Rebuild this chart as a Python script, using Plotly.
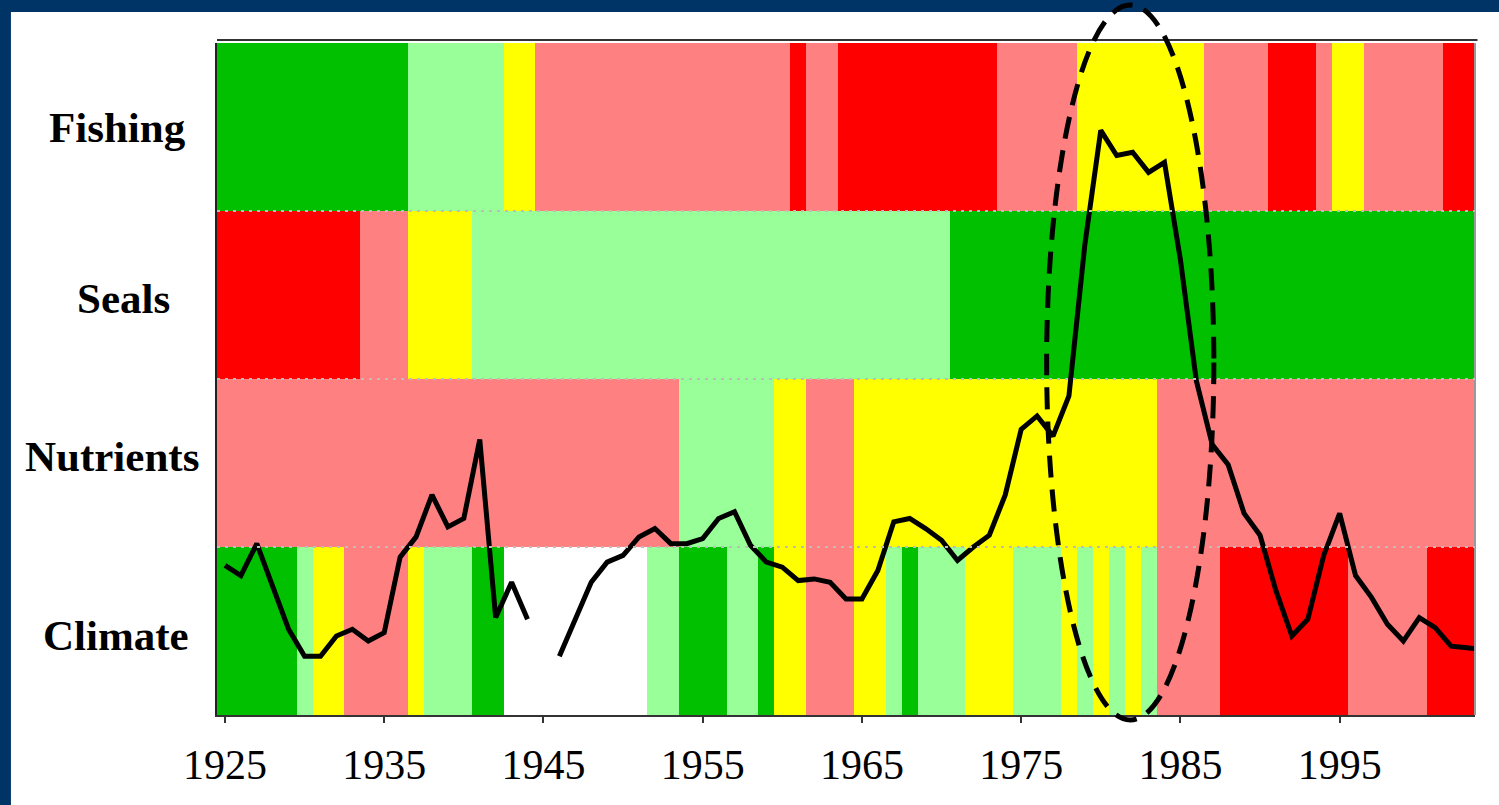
import plotly.graph_objects as go

# ---------------- data ----------------
years = list(range(1925, 2004))
row_names = ["Climate", "Nutrients", "Seals", "Fishing"]   # bottom -> top

# status codes: 2 = dark green, 1 = light green, 0 = yellow, -1 = pink, -2 = red, None = no data
fishing_runs = [(1925, 1936, 2), (1937, 1942, 1), (1943, 1944, 0), (1945, 1960, -1),
                (1961, 1961, -2), (1962, 1963, -1), (1964, 1973, -2), (1974, 1978, -1),
                (1979, 1986, 0), (1987, 1990, -1), (1991, 1993, -2), (1994, 1994, -1),
                (1995, 1996, 0), (1997, 2001, -1), (2002, 2003, -2)]
seals_runs = [(1925, 1933, -2), (1934, 1936, -1), (1937, 1940, 0), (1941, 1970, 1),
              (1971, 2003, 2)]
nutrients_runs = [(1925, 1953, -1), (1954, 1959, 1), (1960, 1961, 0), (1962, 1964, -1),
                  (1965, 1983, 0), (1984, 2003, -1)]
climate_runs = [(1925, 1929, 2), (1930, 1930, 1), (1931, 1932, 0), (1933, 1936, -1),
                (1937, 1937, 0), (1938, 1940, 1), (1941, 1942, 2), (1943, 1951, None),
                (1952, 1953, 1), (1954, 1956, 2), (1957, 1958, 1), (1959, 1959, 2),
                (1960, 1961, 0), (1962, 1964, -1), (1965, 1966, 0), (1967, 1967, 1),
                (1968, 1968, 2), (1969, 1971, 1), (1972, 1974, 0), (1975, 1977, 1),
                (1978, 1978, 0), (1979, 1979, 1), (1980, 1980, 0), (1981, 1981, 1),
                (1982, 1982, 0), (1983, 1983, 1), (1984, 1987, -1), (1988, 1995, -2),
                (1996, 2000, -1), (2001, 2003, -2)]

# index line (in row-height units of the panel)
line_years = list(range(1925, 2005))
line_values = [0.89, 0.83, 1.02, 0.77, 0.51, 0.35, 0.35, 0.47, 0.51, 0.44,
               0.49, 0.94, 1.06, 1.31, 1.12, 1.17, 1.64, 0.58, 0.79, 0.57,
               None, 0.35, 0.57, 0.79, 0.91, 0.95, 1.06, 1.11, 1.02, 1.02,
               1.05, 1.17, 1.21, 1.01, 0.91, 0.88, 0.80, 0.81, 0.79, 0.69,
               0.69, 0.86, 1.15, 1.17, 1.11, 1.04, 0.92, 1.00, 1.07, 1.31,
               1.70, 1.78, 1.66, 1.90, 2.80, 3.48, 3.33, 3.35, 3.23, 3.29,
               2.71, 1.99, 1.61, 1.49, 1.20, 1.07, 0.74, 0.47, 0.57, 0.95,
               1.20, 0.83, 0.70, 0.54, 0.44, 0.58, 0.52, 0.41, 0.40, 0.39]

x_ticks = [1925, 1935, 1945, 1955, 1965, 1975, 1985, 1995]

# highlighted period (dashed ellipse), in years
highlight_start, highlight_end = 1976.6, 1987.1

colors = {"red": "#FF0000", "pink": "#FF8080", "yellow": "#FFFF00",
          "lightgreen": "#99FF99", "darkgreen": "#00C000"}


def expand(runs):
    vals = {}
    for a, b, c in runs:
        for y in range(a, b + 1):
            vals[y] = c
    return [vals.get(y) for y in years]


z = [expand(climate_runs), expand(nutrients_runs), expand(seals_runs), expand(fishing_runs)]
row_centers = [0.5, 1.5, 2.5, 3.5]

cs = [[0.0, colors["red"]], [0.2, colors["red"]],
      [0.2, colors["pink"]], [0.4, colors["pink"]],
      [0.4, colors["yellow"]], [0.6, colors["yellow"]],
      [0.6, colors["lightgreen"]], [0.8, colors["lightgreen"]],
      [0.8, colors["darkgreen"]], [1.0, colors["darkgreen"]]]

fig = go.Figure()
fig.add_trace(go.Heatmap(x=years, y=row_centers, z=z, zmin=-2, zmax=2,
                         colorscale=cs, showscale=False, hoverongaps=False))
fig.add_trace(go.Scatter(x=line_years, y=line_values, mode="lines",
                         line=dict(color="black", width=5), connectgaps=False,
                         showlegend=False))

serif = "Liberation Serif, Times New Roman, serif"

shapes = [
    # white page inside the dark blue frame
    dict(type="rect", xref="paper", yref="paper", x0=-0.1638, x1=1.05, y0=-0.2, y1=1.0461,
         fillcolor="white", line=dict(width=0), layer="below"),
    # top rule
    dict(type="line", xref="paper", yref="paper", x0=0, x1=1.002, y0=1.0045, y1=1.0045,
         line=dict(color="#333333", width=2)),
    # right border
    dict(type="line", xref="paper", yref="paper", x0=1, x1=1, y0=0, y1=1,
         line=dict(color="#999999", width=2)),
]
for yb in [1, 2, 3]:
    shapes.append(dict(type="line", xref="paper", yref="y", x0=0, x1=1, y0=yb, y1=yb,
                       line=dict(color="#BDBDBD", width=2, dash="3px,5px")))
shapes.append(dict(type="circle", xref="x", yref="paper",
                   x0=highlight_start, x1=highlight_end, y0=-0.0074, y1=1.0565,
                   line=dict(color="black", width=5, dash="22px,12px")))

label_shift = {"Climate": (0, -4), "Nutrients": (-4, 7), "Seals": (8, -3), "Fishing": (2, 0)}
annotations = []
for name, yc in zip(row_names, row_centers):
    dx, dy = label_shift[name]
    annotations.append(dict(text="<b>%s</b>" % name, xref="paper", yref="y",
                            x=-0.0803, y=yc, xanchor="center", yanchor="middle",
                            xshift=dx, yshift=dy,
                            showarrow=False, font=dict(family=serif, size=43, color="black")))

fig.update_layout(
    width=1499, height=805,
    margin=dict(l=217, r=24, t=43, b=90),
    paper_bgcolor="#003366", plot_bgcolor="white",
    shapes=shapes, annotations=annotations, showlegend=False,
    xaxis=dict(range=[1924.5, 2003.5], tickvals=x_ticks, ticks="outside", ticklen=6,
               tickwidth=2, tickcolor="#333333", showline=True, linecolor="#333333",
               linewidth=2, showgrid=False, zeroline=False, ticklabelstandoff=6,
               tickfont=dict(family=serif, size=42, color="black")),
    yaxis=dict(range=[0, 4], showticklabels=False, ticks="", showline=True,
               linecolor="#222222", linewidth=2, showgrid=False, zeroline=False),
)

fig.write_html("out.html", config={"displayModeBar": False},
               post_script="document.body.style.margin='0';document.body.style.padding='0';"
                           "document.body.style.overflow='hidden';")
